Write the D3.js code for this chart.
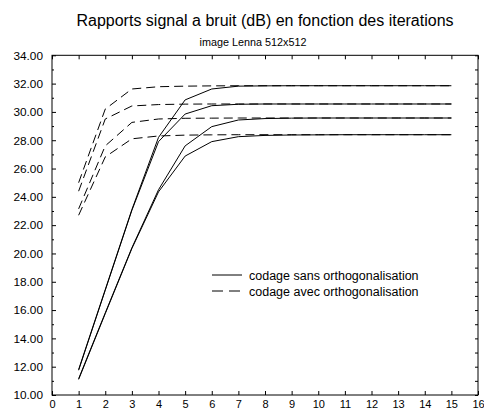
<!DOCTYPE html>
<html>
<head>
<meta charset="utf-8">
<script src="https://cdn.jsdelivr.net/npm/d3@7"></script>
<style>
  html, body { margin: 0; padding: 0; background: #fff; }
  svg { display: block; font-family: "Liberation Sans", Arial, sans-serif; }
</style>
</head>
<body>
<svg id="chart" width="484" height="411"></svg>
<script>
// Iterations (x values)
const iterations = [1, 2, 3, 4, 5, 6, 7, 8, 9, 10, 11, 12, 13, 14, 15];

// PSNR (dB) without orthogonalisation
const sansOrtho1 = [11.80, 17.45, 23.10, 28.20, 30.85, 31.62, 31.82, 31.84, 31.85, 31.85, 31.85, 31.85, 31.85, 31.85, 31.85];
const sansOrtho2 = [11.75, 17.40, 23.05, 27.90, 29.85, 30.44, 30.54, 30.56, 30.56, 30.56, 30.56, 30.56, 30.56, 30.56, 30.56];
const sansOrtho3 = [11.15, 15.80, 20.40, 24.50, 27.60, 28.96, 29.43, 29.53, 29.56, 29.57, 29.57, 29.57, 29.57, 29.57, 29.57];
const sansOrtho4 = [11.10, 15.75, 20.35, 24.35, 26.88, 27.90, 28.25, 28.34, 28.37, 28.38, 28.39, 28.39, 28.39, 28.39, 28.39];

// PSNR (dB) with orthogonalisation
const avecOrtho1 = [25.00, 30.20, 31.62, 31.78, 31.82, 31.84, 31.85, 31.85, 31.85, 31.85, 31.85, 31.85, 31.85, 31.85, 31.85];
const avecOrtho2 = [24.40, 29.50, 30.42, 30.52, 30.55, 30.56, 30.56, 30.56, 30.56, 30.56, 30.56, 30.56, 30.56, 30.56, 30.56];
const avecOrtho3 = [23.15, 27.60, 29.26, 29.50, 29.55, 29.56, 29.57, 29.57, 29.57, 29.57, 29.57, 29.57, 29.57, 29.57, 29.57];
const avecOrtho4 = [22.70, 26.82, 28.10, 28.30, 28.36, 28.38, 28.39, 28.39, 28.39, 28.39, 28.39, 28.39, 28.39, 28.39, 28.39];

const xTicks = d3.range(0, 17);
const yTicks = [10, 12, 14, 16, 18, 20, 22, 24, 26, 28, 30, 32, 34];
const yMinorTicks = d3.range(11, 34, 2);
const yAllTicks = d3.range(10, 35);

const titleText = "Rapports signal a bruit (dB) en fonction des iterations";
const subtitleText = "image Lenna 512x512";
const legendLabels = ["codage sans orthogonalisation", "codage avec orthogonalisation"];

const svg = d3.select("#chart");
const plot = { left: 52, right: 478, top: 55.3, bottom: 395 };

const x = d3.scaleLinear().domain([0, 16]).range([plot.left, plot.right]);
const y = d3.scaleLinear().domain([10, 34]).range([plot.bottom, plot.top]);

// Titles
svg.append("text")
  .attr("x", 265).attr("y", 26)
  .attr("text-anchor", "middle")
  .attr("font-size", 16)
  .text(titleText);
svg.append("text")
  .attr("x", 253).attr("y", 46)
  .attr("text-anchor", "middle")
  .attr("font-size", 10.8)
  .text(subtitleText);

// Axes with inward ticks
const styleAxis = (fontSize) => g => {
  g.select(".domain").remove();
  g.selectAll("line").attr("stroke", "#000");
  g.selectAll("text").attr("font-size", fontSize).attr("fill", "#000")
    .attr("font-family", "'Liberation Sans', Arial, sans-serif");
};

svg.append("g")
  .attr("transform", `translate(0,${plot.bottom})`)
  .call(d3.axisBottom(x).tickValues(xTicks).tickFormat(d3.format("d")).tickSize(-4).tickPadding(5.6))
  .call(styleAxis(11));

svg.append("g")
  .attr("transform", `translate(0,${plot.top})`)
  .call(d3.axisTop(x).tickValues(xTicks).tickFormat("").tickSize(-4))
  .call(styleAxis(11));

svg.append("g")
  .attr("transform", `translate(${plot.left},0)`)
  .call(d3.axisLeft(y).tickValues(yTicks).tickFormat(d3.format(".2f")).tickSize(-4).tickPadding(9))
  .call(styleAxis(11.8));

svg.append("g")
  .attr("transform", `translate(${plot.left},0)`)
  .call(d3.axisLeft(y).tickValues(yMinorTicks).tickFormat("").tickSize(-2))
  .call(styleAxis(11));

svg.append("g")
  .attr("transform", `translate(${plot.right},0)`)
  .call(d3.axisRight(y).tickValues(yAllTicks).tickFormat("").tickSize(-3))
  .call(styleAxis(11));

// Frame
svg.append("rect")
  .attr("x", plot.left).attr("y", plot.top)
  .attr("width", plot.right - plot.left)
  .attr("height", plot.bottom - plot.top)
  .attr("fill", "none").attr("stroke", "#000").attr("stroke-width", 1);

// Series
const line = d3.line()
  .x((d, i) => x(iterations[i]))
  .y(d => y(d));

const solidSeries = [sansOrtho1, sansOrtho2, sansOrtho3, sansOrtho4];
const dashedSeries = [avecOrtho1, avecOrtho2, avecOrtho3, avecOrtho4];
const dashPattern = "9,5";

svg.append("g").selectAll("path")
  .data(solidSeries).join("path")
  .attr("d", line)
  .attr("fill", "none").attr("stroke", "#000").attr("stroke-width", 1);

svg.append("g").selectAll("path")
  .data(dashedSeries).join("path")
  .attr("d", line)
  .attr("fill", "none").attr("stroke", "#000").attr("stroke-width", 1)
  .attr("stroke-dasharray", dashPattern);

// Legend
const legend = svg.append("g").attr("transform", "translate(212,275)");
legendLabels.forEach((label, i) => {
  const row = legend.append("g").attr("transform", `translate(0,${i * 16})`);
  row.append("line")
    .attr("x1", 0).attr("x2", 30).attr("y1", 0).attr("y2", 0)
    .attr("stroke", "#000").attr("stroke-width", 1)
    .attr("stroke-dasharray", i === 0 ? null : "11,6");
  row.append("text")
    .attr("x", 37).attr("y", 4.5)
    .attr("font-size", 12.5)
    .text(label);
});
</script>
</body>
</html>
